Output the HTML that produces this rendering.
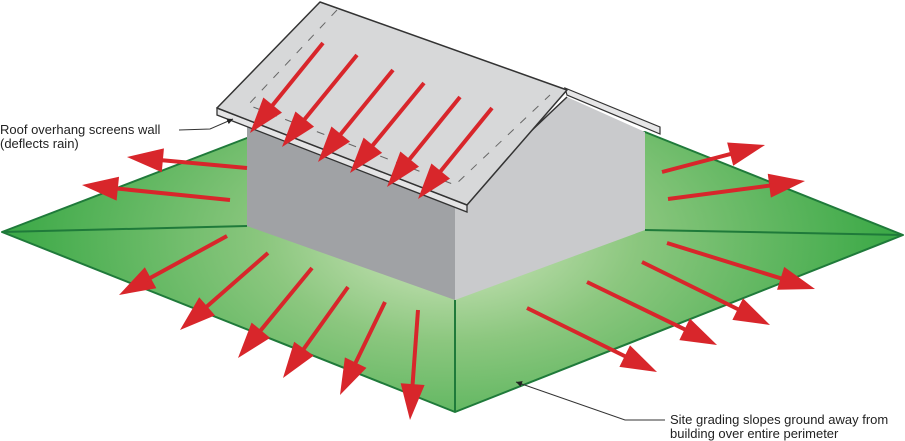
<!DOCTYPE html>
<html><head><meta charset="utf-8"><style>
html,body{margin:0;padding:0;background:#fff;}
svg{display:block;}
text{font-family:"Liberation Sans",sans-serif;font-size:13px;fill:#222;}
</style></head><body>
<svg width="905" height="441" viewBox="0 0 905 441" xmlns="http://www.w3.org/2000/svg">
<defs>
<radialGradient id="g" cx="450" cy="240" r="460" gradientUnits="userSpaceOnUse" gradientTransform="translate(450 240) scale(1 0.55) translate(-450 -240)">
<stop offset="0" stop-color="#d2e7c0"/>
<stop offset="0.4" stop-color="#8cc77f"/>
<stop offset="1" stop-color="#36a743"/>
</radialGradient>
<marker id="ah" viewBox="0 0 10 10" refX="10" refY="5" markerWidth="6" markerHeight="6" orient="auto" markerUnits="userSpaceOnUse"><path d="M0,0 L10,5 L0,10z" fill="#222"/></marker>
</defs>
<polygon points="2,232 247,138 645,132 903,235 455,412" fill="url(#g)" stroke="#1f7a3a" stroke-width="2" stroke-linejoin="round"/>
<line x1="2" y1="232" x2="247" y2="226" stroke="#1f7a3a" stroke-width="2"/>
<line x1="645" y1="230" x2="903" y2="235" stroke="#1f7a3a" stroke-width="2"/>
<line x1="455" y1="300" x2="455" y2="412" stroke="#1f7a3a" stroke-width="2"/>
<polygon points="247,118 455,195 455,300 247,226" fill="#a0a2a5"/>
<polygon points="455,200 567,97 645,132 645,230 455,300" fill="#c9cacc"/>
<polygon points="565,88 660,127 660,134 567,95" fill="#e6e6e7" stroke="#333" stroke-width="1.2"/>
<polyline points="567,97 455,203" fill="none" stroke="#333" stroke-width="1.5"/>
<polygon points="217,108 467,205 467,212 217,115" fill="#e4e4e5" stroke="#333" stroke-width="1.3"/>
<polygon points="320,2 567,90 467,205 217,108" fill="#d7d8d9" stroke="#333" stroke-width="1.5" stroke-linejoin="round"/>
<polyline points="337,10 248,105 455,185 550,95" fill="none" stroke="#666" stroke-width="1" stroke-dasharray="8,9"/>
<g fill="#d8262b" stroke="none" id="arrows"></g>
<g stroke="#d8262b" stroke-width="4" fill="none" id="lines"></g>
<text x="0" y="134">Roof overhang screens wall</text>
<text x="0" y="148">(deflects rain)</text>
<polyline points="179,130 210,129 233,119" fill="none" stroke="#333" stroke-width="1" marker-end="url(#ah)"/>
<text x="670" y="424">Site grading slopes ground away from</text>
<text x="670" y="438">building over entire perimeter</text>
<polyline points="665,420 625,420 516,382" fill="none" stroke="#333" stroke-width="1" marker-end="url(#ah)"/>
<script>
var A=[[323,43,250,133],[357,55,282,147],[393,70,318,162],[424,83,350,173],[460,97,387,187],[492,108,418,199],
[247,168,127,157],[230,200,82,185],
[227,236,119,295],[268,253,180,330],[312,268,238,358],[348,287,283,378],[385,302,340,395],[418,310,410,420],
[662,172,765,145],[668,199,805,181],
[667,243,815,289],[642,262,770,325],[587,282,717,345],[527,308,657,372]];
var ns="http://www.w3.org/2000/svg",G=document.getElementById("arrows"),L=document.getElementById("lines");
A.forEach(function(a){var dx=a[2]-a[0],dy=a[3]-a[1],d=Math.hypot(dx,dy),ux=dx/d,uy=dy/d,px=-uy,py=ux,h=36,w=12;
var bx=a[2]-ux*h,by=a[3]-uy*h;
var l=document.createElementNS(ns,"line");l.setAttribute("x1",a[0]);l.setAttribute("y1",a[1]);l.setAttribute("x2",bx+ux*6);l.setAttribute("y2",by+uy*6);L.appendChild(l);
var p=document.createElementNS(ns,"polygon");p.setAttribute("points",a[2]+","+a[3]+" "+(bx+px*w)+","+(by+py*w)+" "+(bx-px*w)+","+(by-py*w));G.appendChild(p);});
</script>
</svg>
</body></html>
